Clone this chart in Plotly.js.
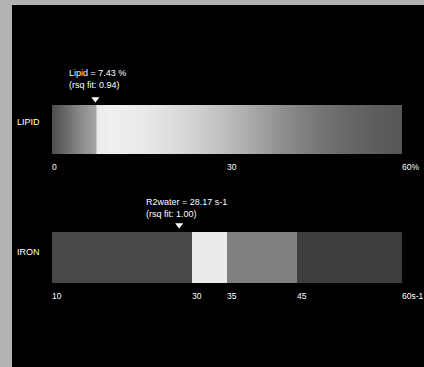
<!DOCTYPE html>
<html>
<head>
<meta charset="utf-8">
<script src="https://cdn.plot.ly/plotly-3.0.1.min.js"></script>
<style>
  html, body { margin: 0; padding: 0; width: 424px; height: 367px; background: #b2b2b2; overflow: hidden; }
  #chart { position: absolute; left: 12px; top: 5px; width: 412px; height: 362px; background: #000; }
</style>
</head>
<body>
<div id="chart"></div>
<script>
// ---- data ----
const lipidPct   = [0, 1, 2, 3, 4, 5, 6, 7, 7.4, 7.7, 10, 15, 20, 25, 30, 35, 40, 45, 50, 55, 60];
const lipidLevel = [78, 90, 102, 115, 128, 140, 150, 160, 165, 235, 240, 234, 222, 207, 188, 165, 140, 120, 105, 94, 86];
const lipidTicks = [0, 30, 60];
const lipidTickText = ['0', '30', '60%'];
const lipidValue = 7.43;
const lipidRsq = 0.94;

const ironEdges = [10, 30, 35, 45, 60];
const ironLevel = [72, 235, 128, 62];
const ironTicks = [10, 30, 35, 45, 60];
const ironTickText = ['10', '30', '35', '45', '60s-1'];
const ironValue = 28.17;
const ironRsq = 1.00;

const rowLabels = ['LIPID', 'IRON'];

// ---- chart ----
const grey = [[0, 'rgb(0,0,0)'], [1, 'rgb(255,255,255)']];
const font = {family: 'Liberation Sans, Arial, sans-serif', size: 9, color: '#ffffff'};
const tfont = {family: 'Liberation Sans, Arial, sans-serif', size: 8.5, color: '#ffffff'};

const traces = [
  {type: 'heatmap', x: lipidPct, y: [0], z: [lipidLevel], zmin: 0, zmax: 255,
   colorscale: grey, showscale: false, zsmooth: 'best', xaxis: 'x', yaxis: 'y', hoverinfo: 'skip'},
  {type: 'heatmap', x: ironEdges, y: [0], z: [ironLevel], zmin: 0, zmax: 255,
   colorscale: grey, showscale: false, zsmooth: false, xaxis: 'x2', yaxis: 'y2', hoverinfo: 'skip'},
  {type: 'scatter', mode: 'markers', x: [lipidValue], y: [0.5], xaxis: 'x', yaxis: 'y3',
   cliponaxis: false, marker: {symbol: 'triangle-down', size: 7, color: '#ffffff', line: {width: 0}}, hoverinfo: 'skip'},
  {type: 'scatter', mode: 'markers', x: [ironValue], y: [0.5], xaxis: 'x2', yaxis: 'y4',
   cliponaxis: false, marker: {symbol: 'triangle-down', size: 7, color: '#ffffff', line: {width: 0}}, hoverinfo: 'skip'}
];

const axX = (range, tv, tt) => ({
  range: range, domain: [0, 1], tickvals: tv, ticktext: tt, ticks: '',
  ticklabelposition: 'outside right', ticklabeloverflow: 'allow', ticklabelstandoff: 6,
  showgrid: false, zeroline: false, showline: false, tickfont: tfont, fixedrange: true
});
const axY = (domain, anchor, range) => ({
  range: range || [-0.5, 0.5], domain: domain, anchor: anchor, showticklabels: false, ticks: '',
  showgrid: false, zeroline: false, showline: false, fixedrange: true
});
const H = 362;
const dom = (top, bottom) => [1 - bottom / H, 1 - top / H];

const layout = {
  width: 412, height: 362,
  margin: {l: 40, r: 22, t: 0, b: 0, pad: 0},
  paper_bgcolor: '#000000', plot_bgcolor: '#000000',
  showlegend: false,
  font: font,
  xaxis: Object.assign(axX([0, 60], lipidTicks, lipidTickText), {anchor: 'y'}),
  yaxis: axY(dom(97, 149), 'x'),
  xaxis2: Object.assign(axX([10, 60], ironTicks, ironTickText), {anchor: 'y2'}),
  yaxis2: axY(dom(227, 278), 'x2'),
  yaxis3: axY(dom(88, 100), 'x', [0, 1]),
  yaxis4: axY(dom(214, 226), 'x2', [0, 1]),
  annotations: [
    {xref: 'x', yref: 'y', x: lipidValue, y: 0.5, xanchor: 'left', yanchor: 'bottom', align: 'left',
     xshift: -28, yshift: 10, showarrow: false, font: font,
     text: 'Lipid = ' + lipidValue.toFixed(2) + ' %<br>(rsq fit: ' + lipidRsq.toFixed(2) + ')'},
    {xref: 'x2', yref: 'y2', x: ironValue, y: 0.5, xanchor: 'left', yanchor: 'bottom', align: 'left',
     xshift: -35, yshift: 11, showarrow: false, font: font,
     text: 'R2water = ' + ironValue.toFixed(2) + ' s-1<br>(rsq fit: ' + ironRsq.toFixed(2) + ')'},
    {xref: 'paper', yref: 'y', x: -37 / 350, y: 0.11, xanchor: 'left', yanchor: 'middle',
     showarrow: false, font: font, text: rowLabels[0]},
    {xref: 'paper', yref: 'y2', x: -37 / 350, y: 0.11, xanchor: 'left', yanchor: 'middle',
     showarrow: false, font: font, text: rowLabels[1]}
  ]
};

Plotly.newPlot('chart', traces, layout, {displayModeBar: false, staticPlot: true});
</script>
</body>
</html>
